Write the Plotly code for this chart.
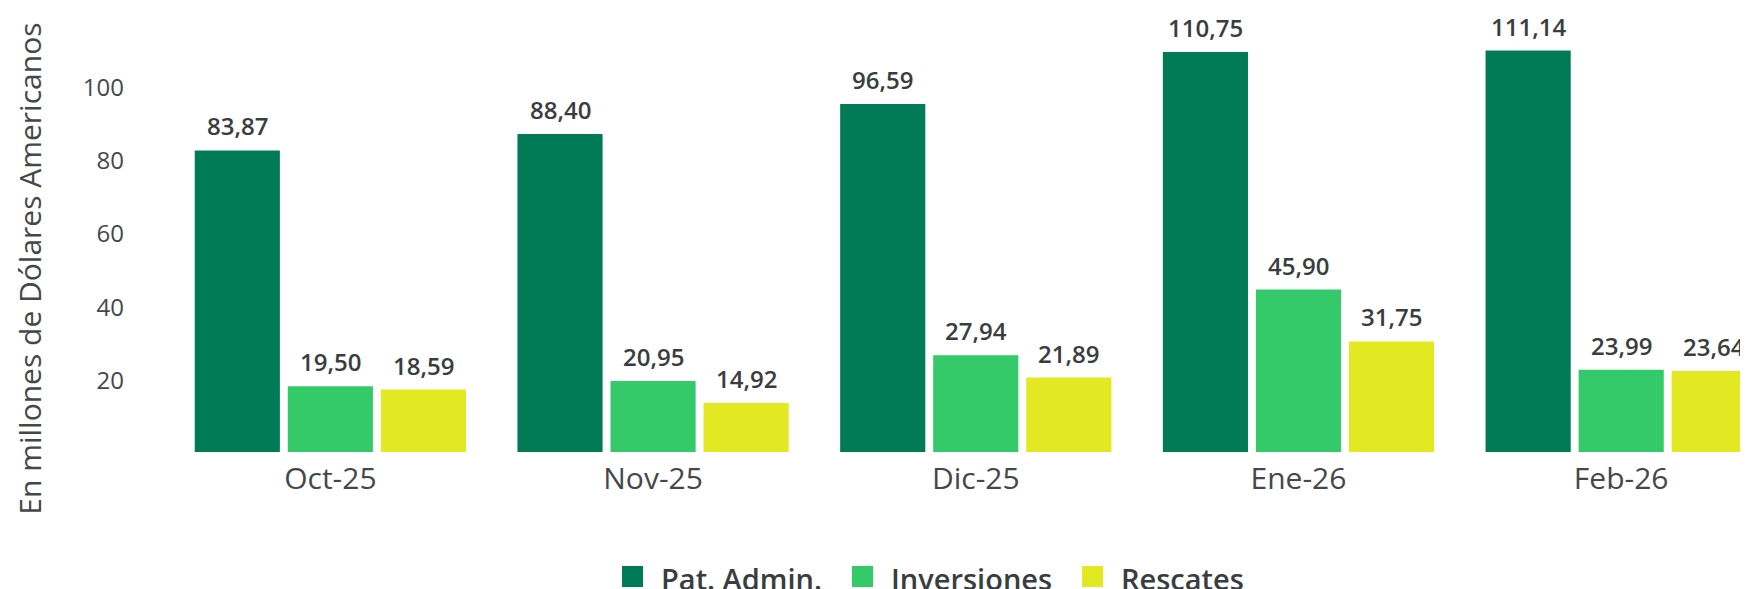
import plotly.graph_objects as go

# ---- data ----
categories = ["Oct-25", "Nov-25", "Dic-25", "Ene-26", "Feb-26"]
series_names = ["Pat. Admin.", "Inversiones", "Rescates"]
pat_admin = [83.87, 88.40, 96.59, 110.75, 111.14]
inversiones = [19.50, 20.95, 27.94, 45.90, 23.99]
rescates = [18.59, 14.92, 21.89, 31.75, 23.64]
y_ticks = [20, 40, 60, 80, 100]
y_title = "En millones de Dólares Americanos"

# ---- styles / layout ----
colors = ["#017B55", "#34CA69", "#E2E821"]
WIN_W, WIN_H = 1748, 589
BODY = 8  # default page body margin
W, H = WIN_W - BODY, WIN_H - BODY
PLOT_LEFT, PLOT_TOP, PLOT_BOTTOM = 169, 10, 452.5   # window pixels
ML, MR, MT = PLOT_LEFT - BODY, 0, PLOT_TOP - BODY
MB = H - (PLOT_BOTTOM - BODY)
PLOT_H = H - MT - MB
PX_PER_UNIT = 3.667
Y_MIN = 1.55
BARGAP = 0.135
GROUPGAP = 0.085
TEXT_COLOR = "#3a3d40"
TICK_COLOR = "#45484b"
FONT = "Open Sans"


def fmt(v):
    return f"{v:.2f}".replace(".", ",")


series = [pat_admin, inversiones, rescates]
fig = go.Figure()
for name, vals, col in zip(series_names, series, colors):
    fig.add_trace(go.Bar(
        x=categories, y=vals, name=name,
        marker=dict(color=col, line=dict(width=0)),
        showlegend=False,
        hovertemplate="%{x}<br>" + name + ": %{y:.2f}<extra></extra>",
    ))

annotations = []
n = len(series)
slot = (1 - BARGAP) / n
for k, vals in enumerate(series):
    for i, v in enumerate(vals):
        annotations.append(dict(
            x=i + (k - (n - 1) / 2) * slot, y=v, xref="x", yref="y",
            text=fmt(v), showarrow=False, yanchor="middle", yshift=24.5,
            font=dict(family=FONT, size=24, color=TEXT_COLOR, weight=600),
        ))

# y axis title
annotations.append(dict(
    x=0, xref="paper", xshift=30 - PLOT_LEFT, xanchor="center",
    y=(PLOT_BOTTOM - 269) / PLOT_H, yref="paper", yanchor="middle",
    text=y_title, textangle=-90, showarrow=False,
    font=dict(family=FONT, size=30, color=TICK_COLOR),
))

# custom legend
legend_x = [622, 852, 1082]
legend_cy = 577
sq = 21
shapes = []
for name, col, lx in zip(series_names, colors, legend_x):
    shapes.append(dict(
        type="rect", xref="paper", yref="paper",
        xsizemode="pixel", ysizemode="pixel", xanchor=0, yanchor=0,
        x0=lx - PLOT_LEFT, x1=lx - PLOT_LEFT + sq,
        y0=-(legend_cy - PLOT_BOTTOM) - sq / 2, y1=-(legend_cy - PLOT_BOTTOM) + sq / 2,
        fillcolor=col, line=dict(width=0),
    ))
    annotations.append(dict(
        x=0, xref="paper", xshift=lx - PLOT_LEFT + 36.5, xanchor="left",
        y=0, yref="paper", yshift=-(legend_cy - PLOT_BOTTOM) - 2, yanchor="middle",
        text=name, showarrow=False,
        font=dict(family=FONT, size=29, color=TEXT_COLOR, weight=600),
    ))

fig.update_layout(
    width=W, height=H,
    margin=dict(l=ML, r=MR, t=MT, b=MB, autoexpand=False),
    barmode="group", bargap=BARGAP, bargroupgap=GROUPGAP,
    plot_bgcolor="white", paper_bgcolor="white",
    font=dict(family=FONT, color=TICK_COLOR),
    annotations=annotations, shapes=shapes,
    showlegend=False,
)
fig.update_xaxes(
    type="category", range=[-0.5, 4.393],
    showgrid=False, showline=False, zeroline=False, ticks="",
    ticklabelstandoff=6,
    tickfont=dict(family=FONT, size=30, color=TICK_COLOR),
)
fig.update_yaxes(
    range=[Y_MIN, Y_MIN + PLOT_H / PX_PER_UNIT],
    tickvals=y_ticks, ticktext=[str(t) for t in y_ticks],
    showgrid=False, showline=False, zeroline=False, ticks="",
    ticklabelstandoff=44, ticklabelshift=-4,
    tickfont=dict(family=FONT, size=24, color=TICK_COLOR),
)

fig.write_html("out.html")
